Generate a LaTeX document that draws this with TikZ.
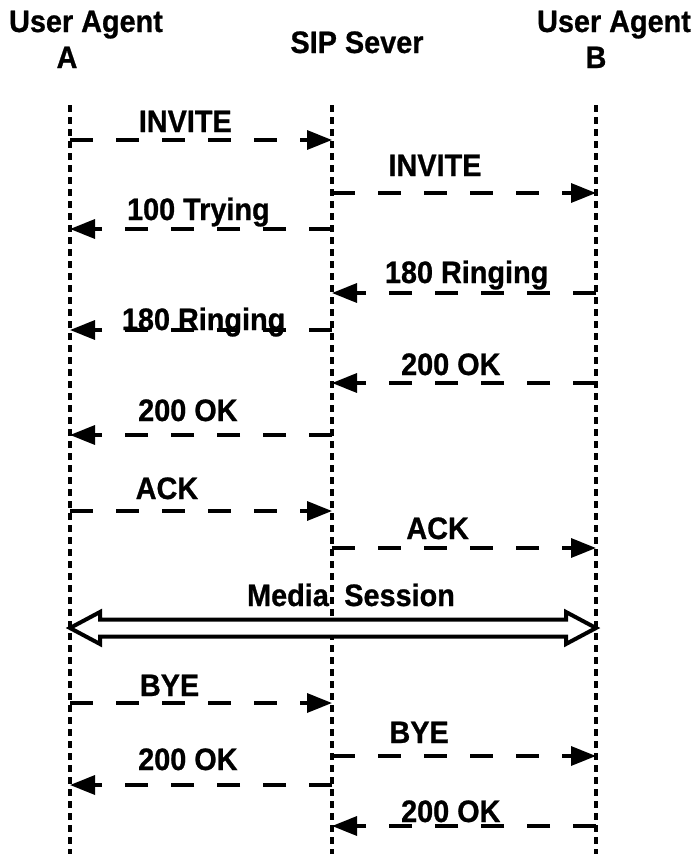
\documentclass[tikz,border=0pt]{standalone}
\usepackage{fontspec}
\setmainfont{Liberation Sans}[BoldFeatures={FakeStretch=0.93,FakeBold=0.8}]
\usetikzlibrary{arrows.meta,calc}

\tikzset{
  lifeline/.style={line width=3.4pt, dash pattern=on 7pt off 5pt},
  msg/.style={line width=3.4pt, dash pattern=on 23pt off 23pt,
    -{Triangle[length=25pt,width=19pt]}},
  lbl/.style={font=\fontsize{31}{36}\selectfont\bfseries, anchor=base, inner sep=0pt},
  media/.style={line width=4pt, fill=white, line join=miter},
}

\begin{document}
\begin{tikzpicture}[x=1pt,y=-1pt]
\useasboundingbox (0,0) rectangle (692,854);
% headers
\node[lbl] (uaA) at (86,32) {User Agent};
\node[lbl] (nameA) at (67,68) {A};
\node[lbl] (sip) at (357,53) {SIP Sever};
\node[lbl] (uaB) at (614,32) {User Agent};
\node[lbl] (nameB) at (596,68) {B};
% lifelines
\coordinate (la) at (70,105);
\coordinate (ls) at (332,105);
\coordinate (lb) at (596,105);
\coordinate (bot) at (0,854);
\draw[lifeline] (la) -- (la |- bot);
\draw[lifeline] (ls) -- (ls |- bot);
\draw[lifeline] (lb) -- (lb |- bot);
% message levels
\foreach \n/\y in {1/140,2/193,3/229,4/293,5/330,6/383,7/435,8/511,9/548,
                   10/628,11/703,12/756,13/785,14/826}
  \coordinate (m\n) at (0,\y);
% messages
\draw[msg] (la |- m1) -- (ls |- m1) node[lbl, pos=.44, yshift=8pt] {INVITE};
\draw[msg] (ls |- m2) -- (lb |- m2) node[lbl, pos=.39, yshift=17pt] {INVITE};
\draw[msg] (ls |- m3) -- (la |- m3) node[lbl, pos=.51, yshift=9pt] {100 Trying};
\draw[msg] (lb |- m4) -- (ls |- m4) node[lbl, pos=.49, yshift=10pt] {180 Ringing};
\draw[msg] (ls |- m5) -- (la |- m5) node[lbl, pos=.49, yshift=0pt] {180 Ringing};
\draw[msg] (lb |- m6) -- (ls |- m6) node[lbl, pos=.55, yshift=8pt] {200 OK};
\draw[msg] (ls |- m7) -- (la |- m7) node[lbl, pos=.55, yshift=14pt] {200 OK};
\draw[msg] (la |- m8) -- (ls |- m8) node[lbl, pos=.37, yshift=12pt] {ACK};
\draw[msg] (ls |- m9) -- (lb |- m9) node[lbl, pos=.40, yshift=9pt] {ACK};
% media session
\coordinate (ma) at (la |- m10);
\coordinate (mb) at (lb |- m10);
\draw[media] (ma) -- ++(30,-16) -- ++(0,7.5) -- ($(mb)+(-30,-8.5)$) -- ++(0,-7.5)
  -- (mb) -- ++(-30,16) -- ++(0,-7.5) -- ($(ma)+(30,8.5)$) -- ++(0,7.5) -- cycle;
\node[lbl] (media) at (351,606) {Media\enspace Session};
% teardown
\draw[msg] (la |- m11) -- (ls |- m11) node[lbl, pos=.38, yshift=7pt] {BYE};
\draw[msg] (ls |- m12) -- (lb |- m12) node[lbl, pos=.33, yshift=13pt] {BYE};
\draw[msg] (ls |- m13) -- (la |- m13) node[lbl, pos=.55, yshift=15pt] {200 OK};
\draw[msg] (lb |- m14) -- (ls |- m14) node[lbl, pos=.55, yshift=4pt] {200 OK};
\end{tikzpicture}
\end{document}
